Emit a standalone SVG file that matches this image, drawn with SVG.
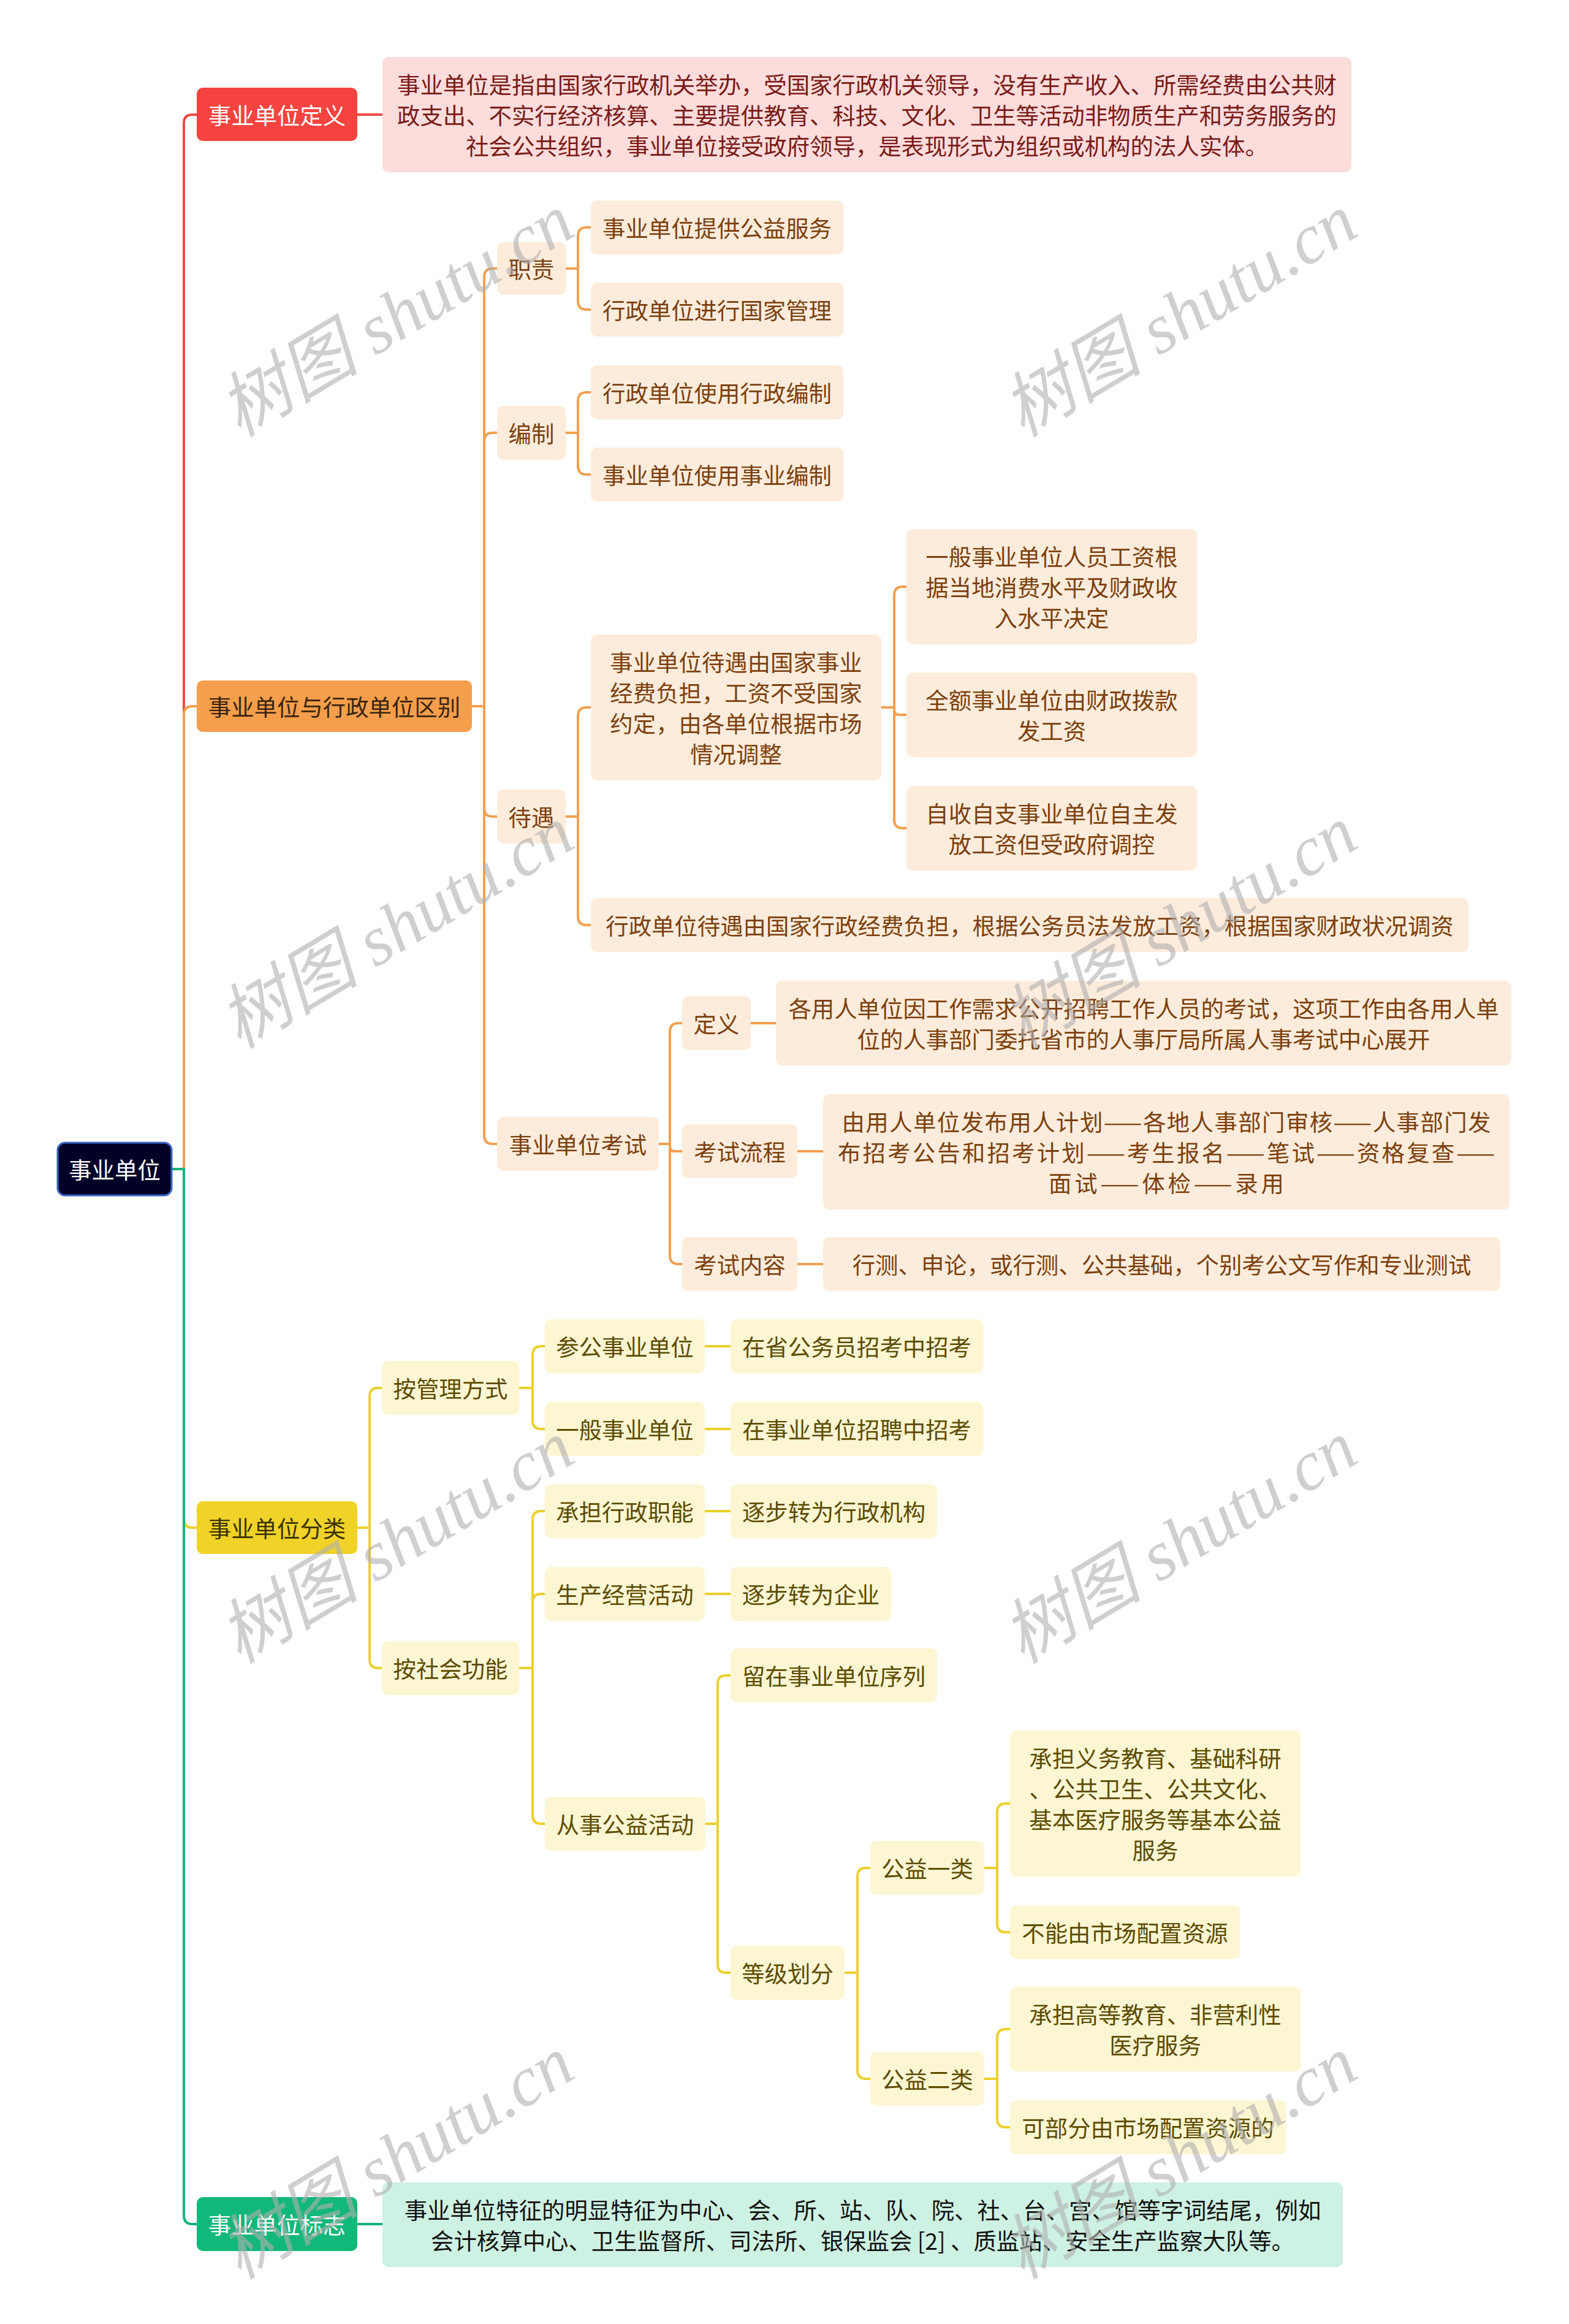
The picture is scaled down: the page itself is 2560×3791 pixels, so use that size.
<svg xmlns="http://www.w3.org/2000/svg" width="2560" height="3791" viewBox="0 0 2560 3791">
<style>
text{font-family:"Noto Sans CJK SC","Noto Sans",sans-serif;font-size:37.4px;text-anchor:middle;dominant-baseline:central}
.ln{fill:none;stroke-width:4;stroke-linecap:round;stroke-linejoin:round}
.lr{stroke:#f04943}.lo{stroke:#f2a04f}.ly{stroke:#ecd02a}.lg{stroke:#14b47a}
.root{fill:#010127;stroke:#3a66c8;stroke-width:3}
.nr{fill:#f5443f}.no{fill:#f59e4b}.ny{fill:#f0d228}.ng{fill:#12b87a}
.pr{fill:#fddcdc}.po{fill:#fdecdb}.py{fill:#fdf6d3}.pg{fill:#cdf1e2}
.tw{fill:#ffffff}.td{fill:#3a2410}.tdy{fill:#3a3200}.tr{fill:#7a1a16}.to{fill:#7c3f0e}.ty{fill:#5c4b00}.tg{fill:#111111}
.wm{font-family:"Liberation Serif","Noto Sans CJK SC",serif;font-style:italic;font-size:115px;fill:#b0b0b0;opacity:0.6}
</style>
<rect width="2560" height="3791" fill="#ffffff"/>
<g id="connectors">
<path class="ln lr" d="M280,1907 H300 V201 Q300,187 314,187 H321 M583,187 H624"/>
<path class="ln lo" d="M280,1907 H300 V1166 Q300,1152 314,1152 H321"/>
<path class="ln ly" d="M280,1907 H300 V2478 Q300,2492 314,2492 H321"/>
<path class="ln lg" d="M280,1907 H300 V3614 Q300,3628 314,3628 H321 M583,3628 H624"/>
<path class="ln lo" d="M770,1152 H790 V452 Q790,438 804,438 H811 M770,1152 H790 V720 Q790,706 804,706 H811 M770,1152 H790 V1318 Q790,1332 804,1332 H811 M770,1152 H790 V1852 Q790,1866 804,1866 H811"/>
<path class="ln lo" d="M923,438 H943 V385 Q943,371 957,371 H964 M923,438 H943 V491 Q943,505 957,505 H964"/>
<path class="ln lo" d="M923,706 H943 V654 Q943,640 957,640 H964 M923,706 H943 V760 Q943,774 957,774 H964"/>
<path class="ln lo" d="M923,1332 H943 V1168 Q943,1154 957,1154 H964 M923,1332 H943 V1495 Q943,1509 957,1509 H964"/>
<path class="ln lo" d="M1438,1154 H1459 V971 Q1459,957 1473,957 H1479 M1438,1154 H1459 V1158 Q1459,1166 1467,1166 H1479 M1438,1154 H1459 V1337 Q1459,1351 1473,1351 H1479"/>
<path class="ln lo" d="M1075,1866 H1093 V1683 Q1093,1669 1107,1669 H1113 M1075,1866 H1093 V1870 Q1093,1878 1101,1878 H1113 M1075,1866 H1093 V2048 Q1093,2062 1107,2062 H1113"/>
<path class="ln lo" d="M1225,1669 H1266 M1301,1878 H1343 M1301,2062 H1343"/>
<path class="ln ly" d="M583,2492 H603 V2278 Q603,2264 617,2264 H623 M583,2492 H603 V2707 Q603,2721 617,2721 H623"/>
<path class="ln ly" d="M847,2264 H869 V2210 Q869,2196 883,2196 H889 M847,2264 H869 V2317 Q869,2331 883,2331 H889"/>
<path class="ln ly" d="M1150,2196 H1192 M1150,2331 H1192 M1150,2465 H1192 M1150,2600 H1192"/>
<path class="ln ly" d="M847,2721 H869 V2479 Q869,2465 883,2465 H889 M847,2721 H869 V2614 Q869,2600 883,2600 H889 M847,2721 H869 V2961 Q869,2975 883,2975 H889"/>
<path class="ln ly" d="M1151,2975 H1171 V2747 Q1171,2733 1185,2733 H1192 M1151,2975 H1171 V3204 Q1171,3218 1185,3218 H1192"/>
<path class="ln ly" d="M1378,3218 H1399 V3061 Q1399,3047 1413,3047 H1420 M1378,3218 H1399 V3377 Q1399,3391 1413,3391 H1420"/>
<path class="ln ly" d="M1606,3047 H1627 V2956 Q1627,2942 1641,2942 H1648 M1606,3047 H1627 V3138 Q1627,3152 1641,3152 H1648"/>
<path class="ln ly" d="M1606,3391 H1627 V3324 Q1627,3310 1641,3310 H1648 M1606,3391 H1627 V3456 Q1627,3470 1641,3470 H1648"/>
</g>
<g id="n-root"><rect class="root" x="94" y="1864" width="186" height="86" rx="12"/><text class="tw" x="187" y="1907">事业单位</text></g>
<g id="n-def"><rect class="nr" x="321" y="143" width="262" height="87" rx="10"/><text class="tw" x="452" y="186.5">事业单位定义</text></g>
<g id="n-def-text"><rect class="pr" x="624" y="93" width="1581" height="188" rx="10"/><text class="tr" x="1414.5" y="137">事业单位是指由国家行政机关举办，受国家行政机关领导，没有生产收入、所需经费由公共财</text><text class="tr" x="1414.5" y="187">政支出、不实行经济核算、主要提供教育、科技、文化、卫生等活动非物质生产和劳务服务的</text><text class="tr" x="1414.5" y="237">社会公共组织，事业单位接受政府领导，是表现形式为组织或机构的法人实体。</text></g>
<g id="n-diff"><rect class="no" x="321" y="1110" width="449" height="84" rx="10"/><text class="td" x="545.5" y="1152">事业单位与行政单位区别</text></g>
<g id="n-duty"><rect class="po" x="811" y="395" width="112" height="86" rx="10"/><text class="to" x="867" y="438">职责</text></g>
<g id="n-duty1"><rect class="po" x="964" y="327" width="412" height="88" rx="10"/><text class="to" x="1170" y="371">事业单位提供公益服务</text></g>
<g id="n-duty2"><rect class="po" x="964" y="461" width="412" height="88" rx="10"/><text class="to" x="1170" y="505">行政单位进行国家管理</text></g>
<g id="n-staff"><rect class="po" x="811" y="662" width="112" height="88" rx="10"/><text class="to" x="867" y="706">编制</text></g>
<g id="n-staff1"><rect class="po" x="964" y="596" width="412" height="88" rx="10"/><text class="to" x="1170" y="640">行政单位使用行政编制</text></g>
<g id="n-staff2"><rect class="po" x="964" y="730" width="412" height="88" rx="10"/><text class="to" x="1170" y="774">事业单位使用事业编制</text></g>
<g id="n-pay"><rect class="po" x="811" y="1288" width="112" height="88" rx="10"/><text class="to" x="867" y="1332">待遇</text></g>
<g id="n-pay1"><rect class="po" x="964" y="1035" width="474" height="238" rx="10"/><text class="to" x="1201" y="1079">事业单位待遇由国家事业</text><text class="to" x="1201" y="1129">经费负担，工资不受国家</text><text class="to" x="1201" y="1179">约定，由各单位根据市场</text><text class="to" x="1201" y="1229">情况调整</text></g>
<g id="n-pay1a"><rect class="po" x="1479" y="863" width="474" height="188" rx="10"/><text class="to" x="1716" y="907">一般事业单位人员工资根</text><text class="to" x="1716" y="957">据当地消费水平及财政收</text><text class="to" x="1716" y="1007">入水平决定</text></g>
<g id="n-pay1b"><rect class="po" x="1479" y="1097" width="474" height="138" rx="10"/><text class="to" x="1716" y="1141">全额事业单位由财政拨款</text><text class="to" x="1716" y="1191">发工资</text></g>
<g id="n-pay1c"><rect class="po" x="1479" y="1282" width="474" height="138" rx="10"/><text class="to" x="1716" y="1326">自收自支事业单位自主发</text><text class="to" x="1716" y="1376">放工资但受政府调控</text></g>
<g id="n-pay2"><rect class="po" x="964" y="1465" width="1432" height="88" rx="10"/><text class="to" x="1680" y="1509">行政单位待遇由国家行政经费负担，根据公务员法发放工资，根据国家财政状况调资</text></g>
<g id="n-exam"><rect class="po" x="811" y="1822" width="264" height="88" rx="10"/><text class="to" x="943" y="1866">事业单位考试</text></g>
<g id="n-exam-def"><rect class="po" x="1113" y="1625" width="112" height="88" rx="10"/><text class="to" x="1169" y="1669">定义</text></g>
<g id="n-exam-def-t"><rect class="po" x="1266" y="1600" width="1200" height="138" rx="10"/><text class="to" x="1866" y="1644">各用人单位因工作需求公开招聘工作人员的考试，这项工作由各用人单</text><text class="to" x="1866" y="1694">位的人事部门委托省市的人事厅局所属人事考试中心展开</text></g>
<g id="n-exam-flow"><rect class="po" x="1113" y="1834" width="188" height="88" rx="10"/><text class="to" x="1207" y="1878">考试流程</text></g>
<g id="n-exam-flow-t"><rect class="po" x="1343" y="1785" width="1120" height="188" rx="10"/><text class="to" x="1903" y="1829" textLength="1059" lengthAdjust="spacing">由用人单位发布用人计划——各地人事部门审核——人事部门发</text><text class="to" x="1903" y="1879" textLength="1072" lengthAdjust="spacing">布招考公告和招考计划——考生报名——笔试——资格复查——</text><text class="to" x="1903" y="1929" textLength="384" lengthAdjust="spacing">面试——体检——录用</text></g>
<g id="n-exam-cont"><rect class="po" x="1113" y="2018" width="188" height="88" rx="10"/><text class="to" x="1207" y="2062">考试内容</text></g>
<g id="n-exam-cont-t"><rect class="po" x="1343" y="2018" width="1105" height="88" rx="10"/><text class="to" x="1895.5" y="2062">行测、申论，或行测、公共基础，个别考公文写作和专业测试</text></g>
<g id="n-class"><rect class="ny" x="321" y="2449" width="262" height="86" rx="10"/><text class="tdy" x="452" y="2492">事业单位分类</text></g>
<g id="n-mgmt"><rect class="py" x="623" y="2220" width="224" height="88" rx="10"/><text class="ty" x="735" y="2264">按管理方式</text></g>
<g id="n-mgmt1"><rect class="py" x="889" y="2152" width="261" height="88" rx="10"/><text class="ty" x="1019.5" y="2196">参公事业单位</text></g>
<g id="n-mgmt1t"><rect class="py" x="1192" y="2152" width="412" height="88" rx="10"/><text class="ty" x="1398" y="2196">在省公务员招考中招考</text></g>
<g id="n-mgmt2"><rect class="py" x="889" y="2287" width="261" height="88" rx="10"/><text class="ty" x="1019.5" y="2331">一般事业单位</text></g>
<g id="n-mgmt2t"><rect class="py" x="1192" y="2287" width="412" height="88" rx="10"/><text class="ty" x="1398" y="2331">在事业单位招聘中招考</text></g>
<g id="n-func"><rect class="py" x="623" y="2677" width="224" height="88" rx="10"/><text class="ty" x="735" y="2721">按社会功能</text></g>
<g id="n-func1"><rect class="py" x="889" y="2421" width="261" height="88" rx="10"/><text class="ty" x="1019.5" y="2465">承担行政职能</text></g>
<g id="n-func1t"><rect class="py" x="1192" y="2421" width="337" height="88" rx="10"/><text class="ty" x="1360.5" y="2465">逐步转为行政机构</text></g>
<g id="n-func2"><rect class="py" x="889" y="2556" width="261" height="88" rx="10"/><text class="ty" x="1019.5" y="2600">生产经营活动</text></g>
<g id="n-func2t"><rect class="py" x="1192" y="2556" width="262" height="88" rx="10"/><text class="ty" x="1323" y="2600">逐步转为企业</text></g>
<g id="n-func3"><rect class="py" x="889" y="2931" width="262" height="88" rx="10"/><text class="ty" x="1020" y="2975">从事公益活动</text></g>
<g id="n-func3a"><rect class="py" x="1192" y="2689" width="337" height="88" rx="10"/><text class="ty" x="1360.5" y="2733">留在事业单位序列</text></g>
<g id="n-grade"><rect class="py" x="1192" y="3174" width="186" height="88" rx="10"/><text class="ty" x="1285" y="3218">等级划分</text></g>
<g id="n-g1"><rect class="py" x="1420" y="3003" width="186" height="88" rx="10"/><text class="ty" x="1513" y="3047">公益一类</text></g>
<g id="n-g1a"><rect class="py" x="1648" y="2823" width="474" height="238" rx="10"/><text class="ty" x="1885" y="2867">承担义务教育、基础科研</text><text class="ty" x="1885" y="2917">、公共卫生、公共文化、</text><text class="ty" x="1885" y="2967">基本医疗服务等基本公益</text><text class="ty" x="1885" y="3017">服务</text></g>
<g id="n-g1b"><rect class="py" x="1648" y="3108" width="375" height="88" rx="10"/><text class="ty" x="1835.5" y="3152">不能由市场配置资源</text></g>
<g id="n-g2"><rect class="py" x="1420" y="3347" width="186" height="88" rx="10"/><text class="ty" x="1513" y="3391">公益二类</text></g>
<g id="n-g2a"><rect class="py" x="1648" y="3241" width="474" height="138" rx="10"/><text class="ty" x="1885" y="3285">承担高等教育、非营利性</text><text class="ty" x="1885" y="3335">医疗服务</text></g>
<g id="n-g2b"><rect class="py" x="1648" y="3426" width="450" height="88" rx="10"/><text class="ty" x="1873" y="3470">可部分由市场配置资源的</text></g>
<g id="n-mark"><rect class="ng" x="321" y="3584" width="262" height="88" rx="10"/><text class="tw" x="452" y="3628">事业单位标志</text></g>
<g id="n-mark-text"><rect class="pg" x="624" y="3560" width="1567" height="138" rx="10"/><text class="tg" x="1407.5" y="3604">事业单位特征的明显特征为中心、会、所、站、队、院、社、台、宫、馆等字词结尾，例如</text><text class="tg" x="1407.5" y="3654">会计核算中心、卫生监督所、司法所、银保监会 [2] 、质监站、安全生产监察大队等。</text></g>
<g id="watermarks">
<text class="wm" transform="translate(647,515) rotate(-31)">树图 shutu.cn</text>
<text class="wm" transform="translate(1925,515) rotate(-31)">树图 shutu.cn</text>
<text class="wm" transform="translate(647,1513) rotate(-31)">树图 shutu.cn</text>
<text class="wm" transform="translate(1925,1513) rotate(-31)">树图 shutu.cn</text>
<text class="wm" transform="translate(647,2516) rotate(-31)">树图 shutu.cn</text>
<text class="wm" transform="translate(1925,2516) rotate(-31)">树图 shutu.cn</text>
<text class="wm" transform="translate(647,3520) rotate(-31)">树图 shutu.cn</text>
<text class="wm" transform="translate(1925,3520) rotate(-31)">树图 shutu.cn</text>
</g>
</svg>
